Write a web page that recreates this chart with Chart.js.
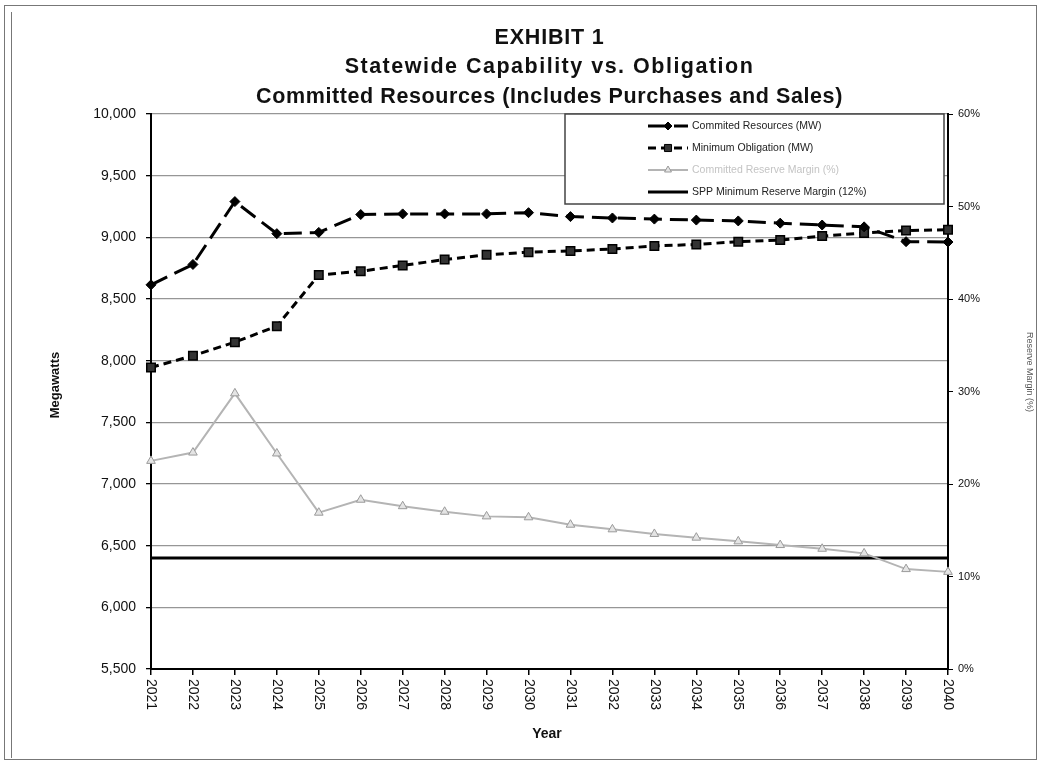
<!DOCTYPE html>
<html>
<head>
<meta charset="utf-8">
<script src="https://cdn.jsdelivr.net/npm/chart.js@4.4.1/dist/chart.umd.min.js"></script>
<style>
    body { margin: 0; background: #fff; }
    .frame { position: absolute; border: 1px solid #777; }
    #graph { position: absolute; left: 0; top: 0; }
</style>
</head>
<body>
<div class="frame" style="left:4px; top:5px; width:1031px; height:753px;"></div>
<div class="frame" style="left:11px; top:12px; width:0; height:746px; border-width:0 0 0 1px;"></div>
<canvas id="graph" width="1041" height="769"></canvas>
<script>
const titleLines = ['EXHIBIT 1', 'Statewide Capability vs. Obligation', 'Committed Resources (Includes Purchases and Sales)'];

const years = ['2021', '2022', '2023', '2024', '2025', '2026', '2027', '2028', '2029', '2030',
    '2031', '2032', '2033', '2034', '2035', '2036', '2037', '2038', '2039', '2040'];

// MW, left axis
const committedMW = [8615, 8780, 9290, 9030, 9040, 9185, 9190, 9190, 9190, 9200,
    9168, 9157, 9148, 9140, 9133, 9115, 9100, 9085, 8965, 8962];
const minObligationMW = [7945, 8040, 8150, 8280, 8695, 8725, 8772, 8820, 8858, 8880,
    8890, 8905, 8930, 8942, 8965, 8978, 9010, 9035, 9055, 9062];

// %, right axis
const reserveMarginPct = [22.5, 23.4, 29.8, 23.3, 16.9, 18.3, 17.6, 17.0, 16.5, 16.4,
    15.6, 15.1, 14.6, 14.2, 13.8, 13.4, 13.0, 12.5, 10.8, 10.5];
const sppMinPct = [12, 12, 12, 12, 12, 12, 12, 12, 12, 12,
    12, 12, 12, 12, 12, 12, 12, 12, 12, 12];

const mwMin = 5500, mwMax = 10000, mwStep = 500;
const pctMin = 0, pctMax = 60, pctStep = 10;

const FONT = '"Liberation Sans", Arial, sans-serif';
Chart.defaults.font.family = FONT;

// titles, rotated year labels, axis titles and the boxed legend
const extras = {
    id: 'extras',
    afterDatasetsDraw(chart) {
        const ctx = chart.ctx;
        const area = chart.chartArea;
        const boxRight = area.right - 4, boxLeft = 565, boxTop = area.top, boxH = 90;
        ctx.save();
        ctx.fillStyle = '#fff';
        ctx.fillRect(boxLeft, boxTop, boxRight - boxLeft, boxH);
        ctx.strokeStyle = '#444';
        ctx.lineWidth = 1.5;
        ctx.strokeRect(boxLeft, boxTop, boxRight - boxLeft, boxH);

        chart.data.datasets.forEach(function (ds, i) {
            const y = boxTop + 12 + i * 22;
            const x1 = 648, x2 = 688;
            ctx.save();
            ctx.strokeStyle = ds.borderColor;
            ctx.lineWidth = ds.borderWidth;
            ctx.setLineDash(ds.borderDash || []);
            ctx.beginPath();
            ctx.moveTo(x1, y);
            ctx.lineTo(x2, y);
            ctx.stroke();
            ctx.setLineDash([]);
            if (ds.pointRadius > 0) {
                ctx.fillStyle = ds.backgroundColor;
                ctx.strokeStyle = ds.pointBorderColor || ds.borderColor;
                ctx.lineWidth = 1;
                Chart.helpers.drawPoint(ctx, {pointStyle: ds.pointStyle, radius: ds.pointRadius - 1, rotation: 0, borderWidth: 1}, (x1 + x2) / 2, y);
            }
            ctx.restore();
            ctx.fillStyle = i == 2 ? '#c4c4c4' : '#222';
            ctx.font = '10.5px ' + FONT;
            ctx.textAlign = 'left';
            ctx.textBaseline = 'middle';
            ctx.fillText(ds.label, x2 + 4, y);
        });
        ctx.restore();
    },
    afterDraw(chart) {
        const ctx = chart.ctx;
        const area = chart.chartArea;
        const xs = chart.scales.x;
        const midX = (area.left + area.right) / 2;
        ctx.save();
        ctx.fillStyle = '#111';
        ctx.textAlign = 'center';
        ctx.textBaseline = 'middle';
        ctx.font = 'bold 21.5px ' + FONT;
        const spacing = ['0.8px', '1.5px', '0.6px'];
        titleLines.forEach(function (t, i) {
            ctx.letterSpacing = spacing[i];
            ctx.fillText(t, midX, 38 + i * 29.5);
        });
        ctx.letterSpacing = '0px';

        ctx.font = '14px ' + FONT;
        years.forEach(function (yr, i) {
            ctx.save();
            ctx.translate(xs.getPixelForValue(i), area.bottom + 10);
            ctx.rotate(Math.PI / 2);
            ctx.textAlign = 'left';
            ctx.fillText(yr, 0, 0);
            ctx.restore();
        });

        ctx.font = 'bold 14px ' + FONT;
        ctx.fillText('Year', 547, 734);

        ctx.save();
        ctx.translate(55, 385);
        ctx.rotate(-Math.PI / 2);
        ctx.font = 'bold 13px ' + FONT;
        ctx.fillText('Megawatts', 0, 0);
        ctx.restore();

        ctx.save();
        ctx.translate(1029, 372);
        ctx.rotate(Math.PI / 2);
        ctx.fillStyle = '#555';
        ctx.font = '9px ' + FONT;
        ctx.fillText('Reserve Margin (%)', 0, 0);
        ctx.restore();
        ctx.restore();
    }
};

const graph = document.getElementById('graph');
let chart = new Chart(graph, {
    type: 'line',
    data: {
        labels: years,
        datasets: [{
            label: 'Commited Resources (MW)',
            data: committedMW,
            yAxisID: 'y',
            borderColor: '#000',
            backgroundColor: '#000',
            borderWidth: 3,
            borderDash: [18, 8],
            pointStyle: 'rectRot',
            pointRadius: 5,
            pointBorderWidth: 1
        }, {
            label: 'Minimum Obligation (MW)',
            data: minObligationMW,
            yAxisID: 'y',
            borderColor: '#000',
            backgroundColor: '#333',
            pointBorderColor: '#000',
            borderWidth: 3,
            borderDash: [8, 5],
            pointStyle: 'rect',
            pointRadius: 6,
            pointBorderWidth: 1.5
        }, {
            label: 'Committed Reserve Margin (%)',
            data: reserveMarginPct,
            yAxisID: 'y2',
            borderColor: '#b4b4b4',
            backgroundColor: '#e4e4e4',
            pointBorderColor: '#9a9a9a',
            borderWidth: 2,
            pointStyle: 'triangle',
            pointRadius: 5,
            pointBorderWidth: 1
        }, {
            label: 'SPP Minimum Reserve Margin (12%)',
            data: sppMinPct,
            yAxisID: 'y2',
            borderColor: '#000',
            backgroundColor: '#000',
            borderWidth: 3,
            pointRadius: 0
        }]
    },
    options: {
        responsive: false,
        animation: false,
        layout: { padding: { top: 114, left: 0, right: 0, bottom: 0 } },
        plugins: {
            legend: { display: false },
            tooltip: { enabled: false }
        },
        scales: {
            x: {
                offset: false,
                ticks: { display: false },
                grid: { drawOnChartArea: false, color: '#000', tickLength: 6, lineWidth: 1.5 },
                border: { color: '#000', width: 2 },
                afterFit: function (s) { s.height = 100; }
            },
            y: {
                position: 'left',
                min: mwMin,
                max: mwMax,
                ticks: {
                    stepSize: mwStep,
                    callback: v => v.toLocaleString('en-US'),
                    font: { size: 14 },
                    color: '#111',
                    padding: 10
                },
                grid: { color: '#969696', lineWidth: 1.3, tickLength: 5, tickColor: '#000' },
                border: { color: '#000', width: 2 },
                afterFit: function (s) { s.width = 151; }
            },
            y2: {
                position: 'right',
                min: pctMin,
                max: pctMax,
                ticks: {
                    stepSize: pctStep,
                    callback: v => v + '%',
                    font: { size: 11 },
                    color: '#111',
                    padding: 5
                },
                grid: { drawOnChartArea: false, color: '#000', tickLength: 5 },
                border: { color: '#000', width: 2 },
                afterFit: function (s) { s.width = 93; }
            }
        }
    },
    plugins: [extras]
});
</script>
</body>
</html>
